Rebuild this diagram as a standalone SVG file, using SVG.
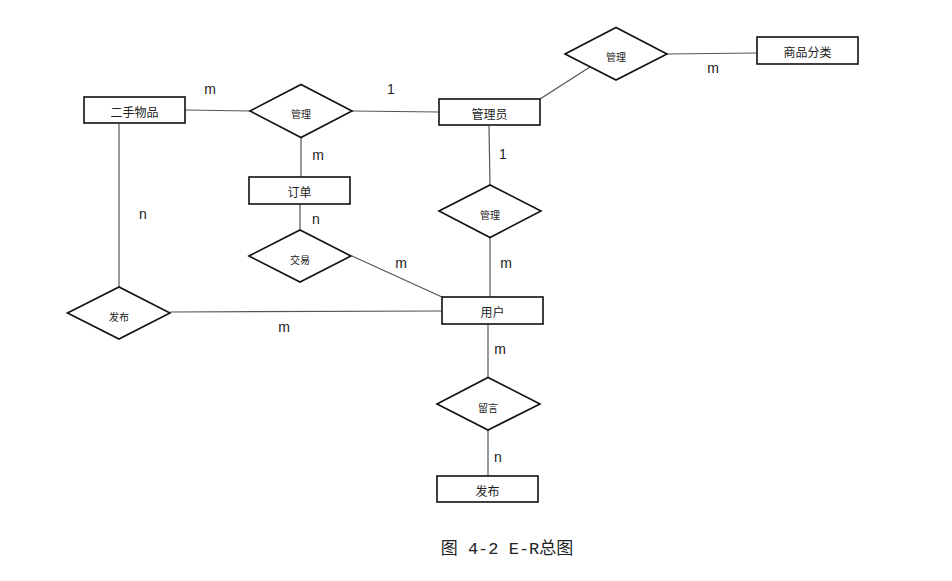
<svg xmlns="http://www.w3.org/2000/svg" width="952" height="581" viewBox="0 0 952 581">
<style>
.ent{fill:#fff;stroke:#111;stroke-width:1.6}
.rel{fill:#fff;stroke:#111;stroke-width:1.6}
.t{font-family:"Noto Sans CJK SC","Liberation Sans",sans-serif;font-size:12px;fill:#222;text-anchor:middle;dominant-baseline:central}
.rt{font-family:"Noto Sans CJK SC","Liberation Sans",sans-serif;font-size:10px;fill:#222;text-anchor:middle;dominant-baseline:central}
.c{stroke:#555;stroke-width:1.2;fill:none}
.lb{font-family:"Liberation Sans",Arial,sans-serif;font-size:14px;fill:#222;text-anchor:middle;dominant-baseline:central}
</style>
<rect width="952" height="581" fill="#fff"/>
<g id="connectors">
<line class="c" x1="185" y1="110" x2="250" y2="111"/>
<line class="c" x1="352" y1="111" x2="439" y2="112"/>
<line class="c" x1="301" y1="137" x2="301" y2="177"/>
<line class="c" x1="540" y1="99" x2="590" y2="67"/>
<line class="c" x1="667" y1="54" x2="757" y2="53"/>
<line class="c" x1="489" y1="126" x2="490" y2="185"/>
<line class="c" x1="490" y1="238" x2="490" y2="297"/>
<line class="c" x1="300" y1="204" x2="300" y2="230"/>
<line class="c" x1="352" y1="256" x2="442" y2="297"/>
<line class="c" x1="119" y1="124" x2="119" y2="287"/>
<line class="c" x1="170" y1="312" x2="442" y2="311"/>
<line class="c" x1="488" y1="324" x2="488" y2="377"/>
<line class="c" x1="488" y1="430" x2="488" y2="476"/>
</g>
<g id="labels">
<text class="lb" x="210" y="89">m</text>
<text class="lb" x="391" y="89">1</text>
<text class="lb" x="318" y="155">m</text>
<text class="lb" x="713" y="68">m</text>
<text class="lb" x="503" y="154">1</text>
<text class="lb" x="143" y="214">n</text>
<text class="lb" x="316" y="219">n</text>
<text class="lb" x="401" y="263">m</text>
<text class="lb" x="506" y="263">m</text>
<text class="lb" x="284" y="327">m</text>
<text class="lb" x="500" y="349">m</text>
<text class="lb" x="498" y="457">n</text>
</g>
<g id="ershouwupin"><rect class="ent" x="84" y="97" width="101" height="26"/><text class="t" x="134.5" y="111">二手物品</text></g>
<g id="guanliyuan"><rect class="ent" x="439" y="99" width="101" height="26"/><text class="t" x="489.5" y="113">管理员</text></g>
<g id="shangpinfenlei"><rect class="ent" x="757" y="37" width="101" height="27"/><text class="t" x="807.5" y="51">商品分类</text></g>
<g id="dingdan"><rect class="ent" x="249" y="177" width="101" height="27"/><text class="t" x="299.5" y="191">订单</text></g>
<g id="yonghu"><rect class="ent" x="442" y="297" width="101" height="27"/><text class="t" x="492.5" y="311">用户</text></g>
<g id="fabu-entity"><rect class="ent" x="437" y="476" width="101" height="26"/><text class="t" x="487.5" y="490">发布</text></g>
<g id="guanli-left"><polygon class="rel" points="250,111 301,84.5 352,111 301,137.5"/><text class="rt" x="301" y="113">管理</text></g>
<g id="guanli-top"><polygon class="rel" points="565,54 616,27.5 667,54 616,80"/><text class="rt" x="616" y="56">管理</text></g>
<g id="guanli-mid"><polygon class="rel" points="439,211 490,185 541,211 490,237.5"/><text class="rt" x="490" y="214">管理</text></g>
<g id="jiaoyi"><polygon class="rel" points="249,256 300,230 351,256 300,282"/><text class="rt" x="300" y="259">交易</text></g>
<g id="fabu-rel"><polygon class="rel" points="67.5,313 119,287 170,313 119,339"/><text class="rt" x="119" y="316">发布</text></g>
<g id="liuyan"><polygon class="rel" points="437,404 488,377.5 540,404 488,430"/><text class="rt" x="488" y="407">留言</text></g>
<text x="507" y="549" font-family="'Liberation Mono','Noto Sans CJK SC',monospace" font-size="17" fill="#222" text-anchor="middle" dominant-baseline="central">图 4-2 E-R总图</text>
</svg>
